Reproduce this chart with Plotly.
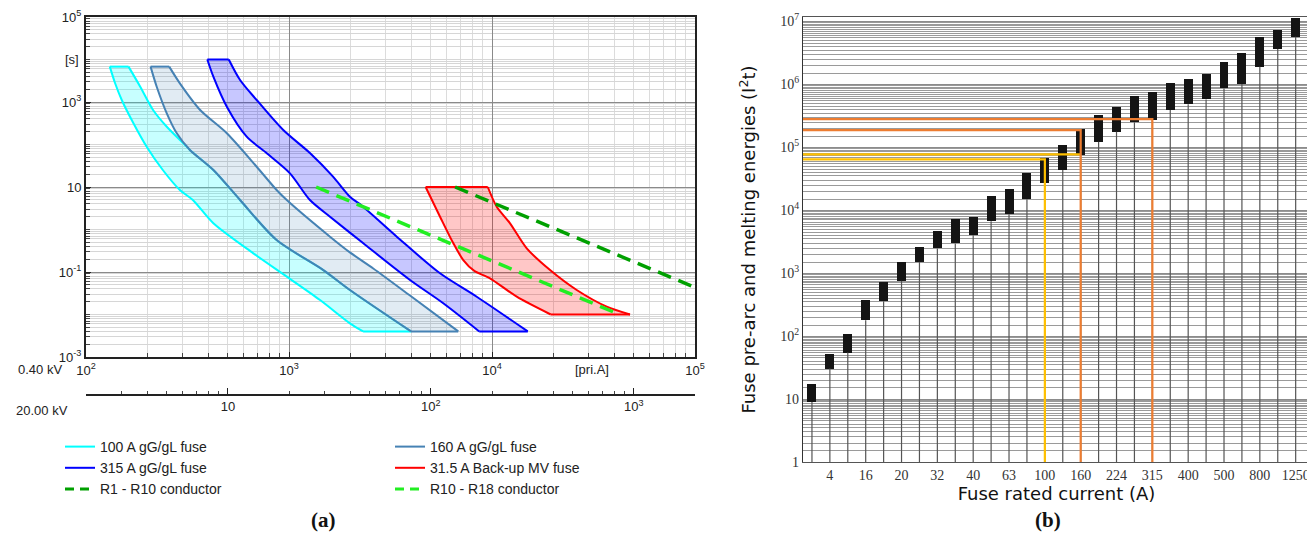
import plotly.graph_objects as go

# page body adds an 8 px margin; the figure is sized/placed to compensate
OFF = 8
W, H = 1315 - OFF, 543 - OFF

# ---------------- (a) time-current characteristics (0.40 kV side) ----------------
# 100 A gG/gL fuse : minimum melting (left) and total clearing (right) curves
f100_min_I = [131, 139, 150, 171, 199, 239, 290, 336, 424, 667, 975, 1422, 1995, 2317]
f100_min_t = [6800, 2800, 1115, 321, 88.7, 25.1, 8.5, 4.94, 1.4, 0.275, 0.0776, 0.0219, 0.0062, 0.004]
f100_max_I = [162, 185, 214, 250, 314, 325, 424, 574, 869, 1476, 1995, 3990]
f100_max_t = [6800, 2290, 649, 262, 88.7, 74.3, 25.1, 4.94, 0.566, 0.111, 0.0377, 0.004]

# 160 A gG/gL fuse
f160_min_I = [208, 223, 250, 280, 325, 424, 574, 869, 1476, 1995, 3990]
f160_min_t = [6800, 2290, 542, 184, 74.3, 25.1, 4.94, 0.566, 0.111, 0.0377, 0.004]
f160_max_I = [257, 290, 365, 494, 693, 869, 975, 1592, 1995, 2600, 3945, 6820]
f160_max_t = [6800, 2750, 649, 184, 30, 8.5, 4.94, 0.678, 0.29, 0.121, 0.0279, 0.004]

# 315 A gG/gL fuse
f315_min_I = [396, 424, 494, 619, 777, 1011, 1268, 1592, 2323, 3945, 5754, 8650]
f315_min_t = [10000, 3940, 774, 153, 62.1, 21, 4.94, 2.0, 0.473, 0.0649, 0.0184, 0.004]
f315_max_I = [505, 574, 693, 937, 1268, 1648, 1995, 2264, 3396, 5546, 8410, 15000]
f315_max_t = [10000, 3296, 1115, 219, 63, 17.5, 5.9, 3.77, 0.678, 0.0931, 0.0262, 0.004]

# 31.5 A back-up MV fuse (referred to 0.40 kV)
fmv_min_I = [4710, 5546, 6450, 7220, 8180, 9770, 13240, 19460]
fmv_min_t = [10, 2.0, 0.473, 0.191, 0.106, 0.0711, 0.0262, 0.01]
fmv_max_I = [9530, 10550, 12270, 14830, 19320, 26140, 36730, 47860]
fmv_max_t = [10, 3.44, 1.4, 0.361, 0.111, 0.0377, 0.0153, 0.01]

# conductor thermal withstand lines
r1_I = [6580, 100000]
r1_t = [10, 0.0433]
r10_I = [1360, 42700]
r10_t = [10, 0.0099]

x_main_ticks = [100, 1000, 10000, 100000]
x_main_text = ["10<sup>2</sup>", "10<sup>3</sup>", "10<sup>4</sup>", "10<sup>5</sup>"]
y_main_ticks = [1e-3, 1e-1, 10, 1e3, 1e5]
y_main_text = ["10<sup>-3</sup>", "10<sup>-1</sup>", "10", "10<sup>3</sup>", "10<sup>5</sup>"]
x_mv_ticks = [10, 100, 1000]
x_mv_text = ["10", "10<sup>2</sup>", "10<sup>3</sup>"]

# ---------------- (b) I2t energies ----------------
fuse_low = [9.0, 30.5, 54.9, 179, 359, 755, 1513, 2470, 2965, 4020, 6710, 8670, 14900, 26700,
            43400, 75200, 122000, 176000, 249000, 271000, 390000, 481000, 577000, 863000,
            1010000, 1900000, 3640000, 5710000]
fuse_high = [17.2, 52.9, 110, 372, 727, 1513, 2620, 4700, 7140, 7860, 16900, 21700, 38400, 68100,
             108000, 192000, 325000, 440000, 652000, 762000, 1040000, 1210000, 1460000, 2240000,
             3110000, 5710000, 7300000, 11500000]
rated_labels = ["4", "16", "20", "32", "40", "63", "100", "160", "224", "315", "400", "500", "800", "1250"]
rated_label_pos = [1, 3, 5, 7, 9, 11, 13, 15, 17, 19, 21, 23, 25, 27]

# selectivity reference levels (I2t) and the fuse column they lead to
ref_level = [64200, 77100, 188000, 281000]
ref_col = [13, 15, 15, 19]
ref_drop = [True, False, True, True]

# ---------------- styling ----------------
SANS = "Liberation Sans, Arial, sans-serif"
SERIF = "Liberation Serif, Times New Roman, serif"
VERD = "DejaVu Sans, Verdana, sans-serif"

fig = go.Figure()

def fuse_band(I_min, t_min, I_max, t_max, color, fill):
    xs = list(I_min) + list(reversed(I_max)) + [I_min[0]]
    ys = list(t_min) + list(reversed(t_max)) + [t_min[0]]
    # shaded band
    fig.add_trace(go.Scatter(x=xs, y=ys, mode="lines", fill="toself", fillcolor=fill,
                             line=dict(width=0), showlegend=False,
                             hoverinfo="skip", xaxis="x", yaxis="y"))
    # smooth characteristic curves
    for cx, cy in ((I_min, t_min), (I_max, t_max)):
        fig.add_trace(go.Scatter(x=cx, y=cy, mode="lines",
                                 line=dict(color=color, width=2, shape="spline", smoothing=0.8),
                                 showlegend=False, hoverinfo="skip", xaxis="x", yaxis="y"))
    # top and bottom edges
    for k in (0, -1):
        fig.add_trace(go.Scatter(x=[I_min[k], I_max[k]], y=[t_min[k], t_max[k]], mode="lines",
                                 line=dict(color=color, width=2),
                                 showlegend=False, hoverinfo="skip", xaxis="x", yaxis="y"))

fuse_band(f100_min_I, f100_min_t, f100_max_I, f100_max_t, "#00FFFF", "rgba(0,255,255,0.22)")
fuse_band(f160_min_I, f160_min_t, f160_max_I, f160_max_t, "#4682B4", "rgba(70,130,180,0.16)")
fuse_band(f315_min_I, f315_min_t, f315_max_I, f315_max_t, "#0000FF", "rgba(0,0,255,0.22)")
fuse_band(fmv_min_I, fmv_min_t, fmv_max_I, fmv_max_t, "#FF0000", "rgba(255,0,0,0.22)")

fig.add_trace(go.Scatter(x=r1_I, y=r1_t, mode="lines", line=dict(color="#00A000", width=3.5, dash="14px,8px"),
                         showlegend=False, hoverinfo="skip", xaxis="x", yaxis="y"))
fig.add_trace(go.Scatter(x=r10_I, y=r10_t, mode="lines", line=dict(color="#22EE22", width=3.5, dash="14px,8px"),
                         showlegend=False, hoverinfo="skip", xaxis="x", yaxis="y"))

# legend entries (two columns -> two legends)
leg_items = [
    ("100 A gG/gL fuse", "#00FFFF", "solid", "legend"),
    ("315 A gG/gL fuse", "#0000FF", "solid", "legend"),
    ("R1 - R10 conductor", "#00A000", "dash", "legend"),
    ("160 A gG/gL fuse", "#4682B4", "solid", "legend2"),
    ("31.5 A Back-up MV fuse", "#FF0000", "solid", "legend2"),
    ("R10 - R18 conductor", "#22EE22", "dash", "legend2"),
]
for name, col, dsh, lg in leg_items:
    fig.add_trace(go.Scatter(x=[None], y=[None], mode="lines", name=name,
                             line=dict(color=col, width=3 if dsh == "dash" else 2,
                                       dash="9px,6px" if dsh == "dash" else "solid"),
                             legend=lg, xaxis="x", yaxis="y"))

# carrier for the 20 kV current axis
fig.add_trace(go.Scatter(x=x_mv_ticks, y=[1] * len(x_mv_ticks), mode="markers",
                         marker=dict(opacity=0), showlegend=False, hoverinfo="skip",
                         xaxis="x3", yaxis="y"))

# ---- (b) stems, boxes, reference lines
stem_x, stem_y = [], []
for i, lo in enumerate(fuse_low):
    stem_x += [i, i, None]
    stem_y += [1, lo, None]
fig.add_trace(go.Scatter(x=stem_x, y=stem_y, mode="lines", line=dict(color="#555555", width=1.2),
                         showlegend=False, hoverinfo="skip", xaxis="x2", yaxis="y2"))

fig.add_trace(go.Bar(x=list(range(len(fuse_low))), y=[h - l for h, l in zip(fuse_high, fuse_low)],
                     base=fuse_low, width=0.5, marker=dict(color="#141414", line=dict(width=0)),
                     showlegend=False, hoverinfo="skip", xaxis="x2", yaxis="y2"))

X2_START = -0.5
ref_colors = ["#FFC000", "#FFC000", "#ED7D31", "#ED7D31"]
for lvl, col, drop, c in zip(ref_level, ref_col, ref_drop, ref_colors):
    xs = [X2_START, col] + ([col] if drop else [])
    ys = [lvl, lvl] + ([1] if drop else [])
    fig.add_trace(go.Scatter(x=xs, y=ys, mode="lines", line=dict(color=c, width=2.2),
                             showlegend=False, hoverinfo="skip", xaxis="x2", yaxis="y2"))

# ---------------- layout ----------------
# positions below are given in reference-picture pixels and converted
T_REF, B_REF = 17, 462            # top / bottom of the plotting region in the reference
T = T_REF - OFF
B = H - (B_REF - OFF)
ph = H - T - B
def py(pix):  # reference pixel y -> paper fraction
    return (B_REF - pix) / ph
def px(pix):  # reference pixel x -> paper fraction
    return (pix - OFF) / W

minor_main_y = []
for e in range(-3, 5):
    for k in range(1, 10):
        v = k * 10 ** e
        if v not in y_main_ticks:
            minor_main_y.append(v)

minor_right_y = []
for e in range(0, 8):
    for k2 in range(3, 20):
        v = (k2 / 2) * 10 ** e
        if v < 1.2e7:
            minor_right_y.append(v)

fig.update_layout(
    width=W, height=H,
    margin=dict(l=0, r=0, t=T, b=B),
    plot_bgcolor="white", paper_bgcolor="white",
    font=dict(family=SANS, size=13, color="#222"),
    hovermode=False,
    xaxis=dict(type="log", domain=[px(86), px(695)], range=[2, 5], anchor="y",
               tickvals=x_main_ticks, ticktext=x_main_text, ticks="inside", ticklen=5,
               tickcolor="#222", showgrid=True, gridcolor="#8a8a8a", gridwidth=1,
               showline=True, linecolor="#222", linewidth=2, mirror=True, zeroline=False,
               minor=dict(dtick="D1", ticks="inside", ticklen=4, tickcolor="#444",
                          showgrid=True, gridcolor="#dcdcdc", gridwidth=1),
               tickfont=dict(family=SANS, size=13), automargin=False),
    yaxis=dict(type="log", domain=[py(357), 1], range=[-3, 5], anchor="x",
               tickvals=y_main_ticks, ticktext=y_main_text, ticks="inside", ticklen=5,
               tickcolor="#222", showgrid=True, gridcolor="#8a8a8a", gridwidth=1,
               showline=True, linecolor="#222", linewidth=2, mirror=True, zeroline=False,
               minor=dict(tickvals=minor_main_y, ticks="inside", ticklen=4, tickcolor="#444",
                          showgrid=True, gridcolor="#d6d6d6", gridwidth=1),
               tickfont=dict(family=SANS, size=13), automargin=False),
    xaxis3=dict(type="log", overlaying="x", anchor="free", position=py(395), side="bottom",
                range=[0.30103, 3.30103], tickvals=x_mv_ticks, ticktext=x_mv_text,
                ticks="inside", ticklen=6, tickcolor="#222", showgrid=False,
                showline=True, linecolor="#222", linewidth=1.5, zeroline=False,
                minor=dict(dtick="D1", ticks="inside", ticklen=3, tickcolor="#444", showgrid=False),
                tickfont=dict(family=SANS, size=13), automargin=False),
    xaxis2=dict(domain=[px(803), px(1310)], range=[X2_START, 27.8], anchor="y2",
                tickvals=rated_label_pos, ticktext=rated_labels, ticks="", showgrid=False,
                showline=True, linecolor="#555", linewidth=1.2, mirror=True, zeroline=False,
                tickfont=dict(family=SERIF, size=14, color="#333"),
                title=dict(text="Fuse rated current (A)", font=dict(family=VERD, size=18, color="#111"),
                           standoff=4),
                automargin=False),
    yaxis2=dict(type="log", domain=[0, 1], range=[0, 7.07], anchor="x2",
                tickvals=[1, 10, 100, 1e3, 1e4, 1e5, 1e6, 1e7],
                ticktext=["1", "10", "10<sup>2</sup>", "10<sup>3</sup>", "10<sup>4</sup>",
                          "10<sup>5</sup>", "10<sup>6</sup>", "10<sup>7</sup>"],
                ticks="", showgrid=True, gridcolor="#8c8c8c", gridwidth=1,
                showline=True, linecolor="#333", linewidth=1.2, mirror=True, zeroline=False,
                minor=dict(tickvals=minor_right_y, showgrid=True, gridcolor="#9a9a9a", gridwidth=1),
                tickfont=dict(family=SERIF, size=14, color="#333"),
                title=dict(text="Fuse pre-arc and melting energies (I<sup>2</sup>t)",
                           font=dict(family=VERD, size=18, color="#111"), standoff=19),
                automargin=False),
    legend=dict(x=px(60), y=py(431), xanchor="left", yanchor="top", bgcolor="rgba(0,0,0,0)",
                font=dict(family=SANS, size=14, color="#222"), itemwidth=30, traceorder="normal"),
    legend2=dict(x=px(390), y=py(431), xanchor="left", yanchor="top", bgcolor="rgba(0,0,0,0)",
                 font=dict(family=SANS, size=14, color="#222"), itemwidth=30, traceorder="normal"),
    bargap=0,
)

ann = [
    dict(text="[s]", x=px(72), y=py(60), xanchor="center", yanchor="middle", font=dict(size=13)),
    dict(text="[pri.A]", x=px(592), y=py(369), xanchor="center", yanchor="middle", font=dict(size=13)),
    dict(text="0.40 kV", x=px(40), y=py(369), xanchor="center", yanchor="middle", font=dict(size=13)),
    dict(text="20.00 kV", x=px(42), y=py(410), xanchor="center", yanchor="middle", font=dict(size=13)),
    dict(text="<b>(a)</b>", x=px(323), y=py(520), xanchor="center", yanchor="middle",
         font=dict(family=SERIF, size=21, color="#111")),
    dict(text="<b>(b)</b>", x=px(1048), y=py(520), xanchor="center", yanchor="middle",
         font=dict(family=SERIF, size=21, color="#111")),
]
for a in ann:
    fig.add_annotation(xref="paper", yref="paper", showarrow=False, **a)

fig.write_html("out.html")
